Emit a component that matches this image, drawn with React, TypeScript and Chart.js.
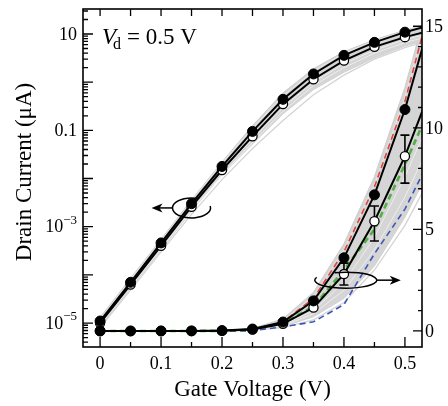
import { useEffect, useRef } from 'react';
import { Chart, registerables } from 'chart.js';

Chart.register(...registerables);

// Gate voltage sweep (V); the last point only carries the curves past the frame edge
const gateVoltage = [0, 0.05, 0.1, 0.15, 0.2, 0.25, 0.3, 0.35, 0.4, 0.45, 0.5, 0.55];

// Drain current (µA)
const drainMeasured = [1.1e-5, 7.0e-5, 4.6e-4, 3.0e-3, 0.0178, 0.095, 0.44, 1.48, 3.6, 6.7, 10.9, 16.2];
const drainNominal = [1.0e-5, 6.3e-5, 4.0e-4, 2.6e-3, 0.015, 0.075, 0.35, 1.15, 2.8, 5.4, 8.6, 12.5];

// Spread of the device ensemble
const ensembleHigh = [1.3e-5, 8.5e-5, 5.5e-4, 3.6e-3, 0.022, 0.125, 0.6, 1.9, 4.3, 7.6, 12.0, 17.5];
const ensembleLow = [8.5e-6, 5.3e-5, 3.3e-4, 2.1e-3, 0.012, 0.052, 0.22, 0.7, 1.6, 3.2, 5.6, 8.5];
const ensembleOutlier = [8e-6, 4.8e-5, 3.0e-4, 1.8e-3, 0.0095, 0.042, 0.16, 0.55, 1.4, 3.0, 5.2, 8.0];
const ensembleTraceA = [9.5e-6, 6e-5, 3.8e-4, 2.4e-3, 0.014, 0.066, 0.3, 1.0, 2.4, 4.6, 7.6, 11.0];
const ensembleTraceB = [1.2e-5, 8e-5, 5.2e-4, 3.4e-3, 0.021, 0.11, 0.52, 1.7, 4.0, 7.2, 11.5, 16.8];
const ensembleTraceC = [9e-6, 5.6e-5, 3.5e-4, 2.2e-3, 0.012, 0.056, 0.25, 0.85, 2.0, 4.0, 6.6, 9.8];

// Model fits on the linear axis
const fitRed = [0, 0, 0, 0, 0.005, 0.03, 0.45, 1.6, 3.9, 7.1, 11.3, 17.0];
const fitGreen = [0, 0, 0, 0, 0.005, 0.03, 0.38, 1.2, 3.0, 5.0, 8.2, 11.6];
const fitBlue = [0, 0, 0, 0, 0, 0.02, 0.2, 0.45, 1.3, 3.8, 6.0, 9.0];

// Error bars on the nominal curve (linear axis)
const errorVoltage = [0.4, 0.45, 0.5];
const errorLow = [2.26, 4.43, 7.28];
const errorHigh = [3.34, 6.15, 9.64];

// Axis ranges and tick labels
const X_MIN = -0.028;
const X_MAX = 0.528;
const LOG_MIN = 3.18e-6;
const LOG_MAX = 33;
const LIN_MIN = -0.79;
const LIN_MAX = 15.85;

const xTickValues = [0, 0.1, 0.2, 0.3, 0.4, 0.5];
const xTickLabels = ['0', '0.1', '0.2', '0.3', '0.4', '0.5'];
const logLabelValues = [10, 0.1, 1e-3, 1e-5];
const logLabelBase = ['10', '0.1', '10', '10'];
const logLabelExp = ['', '', '\u22123', '\u22125'];
const linLabelValues = [0, 5, 10, 15];

// Loop markers: [gate voltage, current] of each ellipse centre
const logLoopAnchor = [0.15, 2.45e-3];
const linLoopAnchor = [0.403, 2.5];

const SERIF = '"Liberation Serif", "DejaVu Serif", serif';

const pts = (ys: number[]) => gateVoltage.map((x, i) => ({ x, y: ys[i] }));
const markerRadius = gateVoltage.map((v) => (v <= 0.5 ? 5 : 0));
const openRadius = gateVoltage.map((v) => (v <= 0.5 ? 4.6 : 0));

function ensembleSets(axis: string, base: number) {
  return [
    { data: pts(ensembleLow), yAxisID: axis, borderColor: '#cdcdcd', borderWidth: 1, pointRadius: 0, fill: false, order: 30 },
    {
      data: pts(ensembleHigh), yAxisID: axis, borderColor: '#cdcdcd', borderWidth: 1, pointRadius: 0,
      backgroundColor: '#d5d5d5', fill: base, order: 29,
    },
    { data: pts(ensembleOutlier), yAxisID: axis, borderColor: '#d4d4d4', borderWidth: 1.3, pointRadius: 0, fill: false, order: 31 },
    { data: pts(ensembleTraceA), yAxisID: axis, borderColor: '#ededed', borderWidth: 1, pointRadius: 0, fill: false, order: 28 },
    { data: pts(ensembleTraceB), yAxisID: axis, borderColor: '#e8e8e8', borderWidth: 1, pointRadius: 0, fill: false, order: 28 },
    { data: pts(ensembleTraceC), yAxisID: axis, borderColor: '#eeeeee', borderWidth: 1, pointRadius: 0, fill: false, order: 28 },
  ];
}

function curveSets(axis: string) {
  return [
    {
      data: pts(drainNominal), yAxisID: axis, borderColor: '#000', borderWidth: 2, fill: false,
      pointRadius: openRadius, pointBackgroundColor: '#fff', pointBorderColor: '#000', pointBorderWidth: 1.3, order: 3,
    },
    {
      data: pts(drainMeasured), yAxisID: axis, borderColor: '#000', borderWidth: 2, fill: false,
      pointRadius: markerRadius, pointBackgroundColor: '#000', pointBorderColor: '#000', pointBorderWidth: 1, order: 2,
    },
  ];
}

function dashed(ys: number[], color: string, width: number) {
  return {
    data: pts(ys), yAxisID: 'yR', borderColor: color, borderWidth: width, borderDash: [6, 4],
    pointRadius: 0, fill: false, order: 8,
  };
}

function arrowHead(ctx: CanvasRenderingContext2D, x: number, y: number, dir: number) {
  ctx.beginPath();
  ctx.moveTo(x, y);
  ctx.lineTo(x - dir * 11, y - 4.5);
  ctx.lineTo(x - dir * 8, y);
  ctx.lineTo(x - dir * 11, y + 4.5);
  ctx.closePath();
  ctx.fill();
}

const framePlugin = {
  id: 'frame',
  beforeDatasetDraw(chart: any, args: any) {
    if (args.index !== 17) return;
    const { ctx } = chart;
    const xs = chart.scales.x;
    const ys = chart.scales.yR;
    ctx.save();
    ctx.strokeStyle = '#000';
    ctx.lineWidth = 1.6;
    errorVoltage.forEach((v, i) => {
      const px = xs.getPixelForValue(v);
      const y1 = ys.getPixelForValue(errorLow[i]);
      const y2 = ys.getPixelForValue(errorHigh[i]);
      ctx.beginPath();
      ctx.moveTo(px, y1);
      ctx.lineTo(px, y2);
      ctx.moveTo(px - 4.5, y1);
      ctx.lineTo(px + 4.5, y1);
      ctx.moveTo(px - 4.5, y2);
      ctx.lineTo(px + 4.5, y2);
      ctx.stroke();
    });
    ctx.restore();
  },
  afterDatasetsDraw(chart: any) {
    const { ctx } = chart;
    const xs = chart.scales.x;
    const yl = chart.scales.yL;
    const yr = chart.scales.yR;
    ctx.save();
    ctx.strokeStyle = '#000';
    ctx.fillStyle = '#000';
    ctx.lineWidth = 1.5;

    // Loop around the log curve, arrow to the left axis
    const c1x = xs.getPixelForValue(logLoopAnchor[0]);
    const c1y = yl.getPixelForValue(logLoopAnchor[1]);
    ctx.beginPath();
    ctx.ellipse(c1x, c1y, 19, 10, 0, -0.2, Math.PI * 2 - 1.25);
    ctx.stroke();
    ctx.beginPath();
    ctx.moveTo(c1x - 19, c1y);
    ctx.lineTo(c1x - 33, c1y);
    ctx.stroke();
    arrowHead(ctx, c1x - 40, c1y, -1);

    // Loop around the linear curves, arrow to the right axis
    const c2x = xs.getPixelForValue(linLoopAnchor[0]);
    const c2y = yr.getPixelForValue(linLoopAnchor[1]);
    ctx.beginPath();
    ctx.ellipse(c2x, c2y, 31, 8, 0, Math.PI + 1.2, Math.PI * 3 + 0.35);
    ctx.stroke();
    ctx.beginPath();
    ctx.moveTo(c2x + 31, c2y);
    ctx.lineTo(c2x + 48, c2y);
    ctx.stroke();
    arrowHead(ctx, c2x + 55, c2y, 1);
    ctx.restore();
  },
  afterDraw(chart: any) {
    const { ctx, chartArea: a } = chart;
    const xs = chart.scales.x;
    const yl = chart.scales.yL;
    const yr = chart.scales.yR;
    ctx.save();
    ctx.strokeStyle = '#000';
    ctx.fillStyle = '#000';
    ctx.lineWidth = 1.6;
    ctx.strokeRect(a.left, a.top, a.right - a.left, a.bottom - a.top);

    ctx.lineWidth = 1.3;
    ctx.beginPath();
    // bottom and top ticks every 0.05 V
    for (let k = 0; k <= 10; k++) {
      const v = k * 0.05;
      const px = xs.getPixelForValue(v);
      const major = k % 2 === 0;
      ctx.moveTo(px, a.bottom);
      ctx.lineTo(px, a.bottom - (major ? 10 : 5));
      ctx.moveTo(px, a.top);
      ctx.lineTo(px, a.top + 7);
    }
    // log ticks on the left
    for (let d = -6; d <= 1; d++) {
      for (let m = 1; m <= 9; m++) {
        const v = m * Math.pow(10, d);
        if (v < LOG_MIN || v > LOG_MAX) continue;
        const py = yl.getPixelForValue(v);
        ctx.moveTo(a.left, py);
        ctx.lineTo(a.left + (m === 1 ? 10 : 5), py);
      }
    }
    // linear ticks on the right
    for (let v = 0; v <= 15; v++) {
      const py = yr.getPixelForValue(v);
      ctx.moveTo(a.right, py);
      ctx.lineTo(a.right - (v % 5 === 0 ? 9 : 4), py);
    }
    ctx.stroke();

    // tick labels
    ctx.font = `18px ${SERIF}`;
    ctx.textBaseline = 'middle';
    ctx.textAlign = 'center';
    xTickValues.forEach((v, i) => {
      ctx.fillText(xTickLabels[i], xs.getPixelForValue(v), a.bottom + 17);
    });
    ctx.textAlign = 'left';
    linLabelValues.forEach((v) => {
      ctx.fillText(String(v), a.right + 3, yr.getPixelForValue(v) + 1);
    });
    logLabelValues.forEach((v, i) => {
      const py = yl.getPixelForValue(v) + 1;
      const right = a.left - 6;
      if (logLabelExp[i]) {
        ctx.font = `13px ${SERIF}`;
        const ew = ctx.measureText(logLabelExp[i]).width;
        ctx.textAlign = 'left';
        ctx.fillText(logLabelExp[i], right - ew, py - 7);
        ctx.font = `18px ${SERIF}`;
        ctx.textAlign = 'right';
        ctx.fillText(logLabelBase[i], right - ew, py);
      } else {
        ctx.font = `18px ${SERIF}`;
        ctx.textAlign = 'right';
        ctx.fillText(logLabelBase[i], right, py);
      }
    });

    // axis titles
    ctx.font = `23px ${SERIF}`;
    ctx.textAlign = 'center';
    ctx.fillText('Gate Voltage (V)', (a.left + a.right) / 2, 390);
    ctx.save();
    ctx.translate(25, 172);
    ctx.rotate(-Math.PI / 2);
    ctx.fillText('Drain Current (\u03bcA)', 0, 0);
    ctx.restore();

    // bias annotation
    ctx.textBaseline = 'alphabetic';
    ctx.textAlign = 'left';
    ctx.font = `italic 23px ${SERIF}`;
    ctx.fillText('V', 102, 44);
    const vw = ctx.measureText('V').width;
    ctx.font = `16px ${SERIF}`;
    ctx.fillText('d', 102 + vw - 3, 49);
    const dw = ctx.measureText('d').width;
    ctx.font = `23px ${SERIF}`;
    ctx.fillText('= 0.5 V', 102 + vw + dw + 3, 44);
    ctx.restore();
  },
};

export default function App() {
  const canvasRef = useRef<HTMLCanvasElement | null>(null);

  useEffect(() => {
    document.body.style.margin = '0';
    const canvas = canvasRef.current;
    if (!canvas) return;
    const datasets: any[] = [
      ...ensembleSets('yL', 0), // 0-5
      ...curveSets('yL'), // 6-7
      ...ensembleSets('yR', 8), // 8-13
      dashed(fitBlue, '#3a55b4', 1.6), // 14
      dashed(fitGreen, '#52b043', 2.6), // 15
      dashed(fitRed, '#e0443c', 1.6), // 16
      ...curveSets('yR'), // 17-18
    ];
    const chart = new Chart(canvas, {
      type: 'line',
      data: { datasets },
      options: {
        animation: false,
        responsive: false,
        devicePixelRatio: 1,
        layout: { padding: { left: 83, top: 9, right: 26, bottom: 59 } },
        plugins: { legend: { display: false }, tooltip: { enabled: false } },
        scales: {
          x: { type: 'linear', min: X_MIN, max: X_MAX, display: false },
          yL: { type: 'logarithmic', min: LOG_MIN, max: LOG_MAX, display: false },
          yR: { type: 'linear', min: LIN_MIN, max: LIN_MAX, display: false },
        },
      },
      plugins: [framePlugin],
    });
    return () => chart.destroy();
  }, []);

  return <canvas ref={canvasRef} width={448} height={406} style={{ display: 'block' }} />;
}
